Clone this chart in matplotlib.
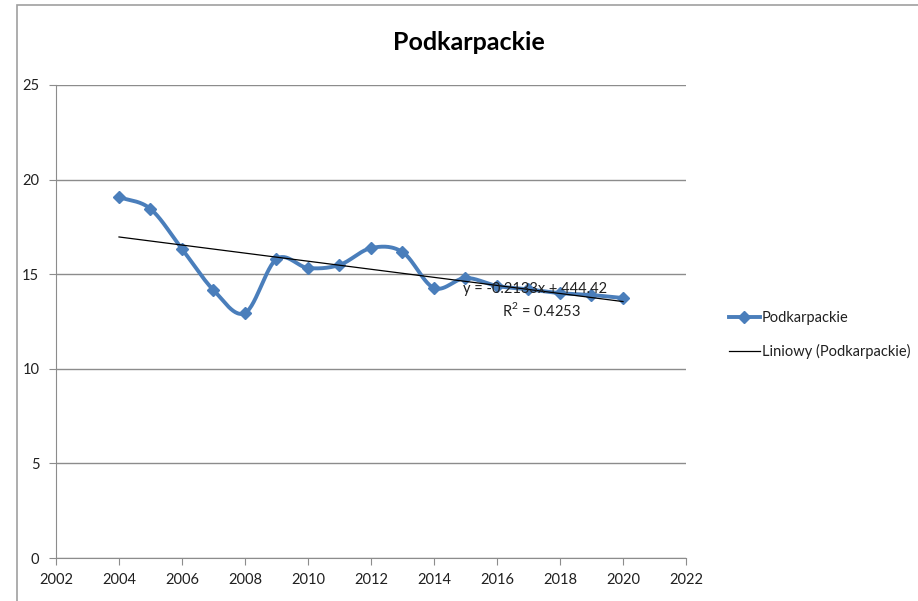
import numpy as np
import matplotlib

matplotlib.use("Agg")
import matplotlib.pyplot as plt
from matplotlib.lines import Line2D
from matplotlib.patches import Rectangle

# values
years = [2004, 2005, 2006, 2007, 2008, 2009, 2010, 2011, 2012,
         2013, 2014, 2015, 2016, 2017, 2018, 2019, 2020]
values = [19.08, 18.45, 16.33, 14.16, 12.95, 15.80, 15.33, 15.49, 16.38,
          16.17, 14.27, 14.80, 14.38, 14.20, 14.00, 13.90, 13.74]
series_name = "Podkarpackie"
trend_name = "Liniowy (Podkarpackie)"
trend_eq = "y = -0.2133x + 444.42"
trend_r2 = "R$^2$ = 0.4253"
x_ticks = list(range(2002, 2023, 2))
y_ticks = [0, 5, 10, 15, 20, 25]

BLUE = "#4a7ebb"
GRID = "#8c8c8c"
FONT = ["Lato", "DejaVu Sans"]
plt.rcParams["font.family"] = FONT
plt.rcParams["mathtext.fontset"] = "custom"
plt.rcParams["mathtext.rm"] = "Lato"


def smooth(x, y, n=30):
    """Catmull-Rom curve through the points, like Excel's smoothed line."""
    x = np.asarray(x, float)
    y = np.asarray(y, float)
    px = np.concatenate([[2 * x[0] - x[1]], x, [2 * x[-1] - x[-2]]])
    py = np.concatenate([[2 * y[0] - y[1]], y, [2 * y[-1] - y[-2]]])
    t = np.linspace(0, 1, n)[:, None]
    out_x, out_y = [], []
    for i in range(1, len(px) - 2):
        for p, out in ((px, out_x), (py, out_y)):
            p0, p1, p2, p3 = p[i - 1], p[i], p[i + 1], p[i + 2]
            seg = 0.5 * ((2 * p1) + (-p0 + p2) * t
                         + (2 * p0 - 5 * p1 + 4 * p2 - p3) * t**2
                         + (-p0 + 3 * p1 - 3 * p2 + p3) * t**3)
            out.extend(seg.ravel())
    return np.array(out_x), np.array(out_y)


fig = plt.figure(figsize=(9.18, 6.01), dpi=100)
fig.patches.append(Rectangle((17 / 918, -0.1), 1.2, 1 - 5 / 601 + 0.1,
                             transform=fig.transFigure, fill=False,
                             edgecolor="#a0a0a0", lw=1.2))
ax = fig.add_axes([56 / 918, 1 - 558 / 601, 630 / 918, 473 / 601])

sx, sy = smooth(years, values)
ax.plot(sx, sy, color=BLUE, lw=2.8, solid_capstyle="round", zorder=3)
ax.plot(years, values, ls="none", marker="D", ms=6.5, color=BLUE, zorder=4)

coef = np.polyfit(years, values, 1)
tx = np.array([years[0], years[-1]])
ax.plot(tx, np.polyval(coef, tx), color="black", lw=0.9, zorder=5)

ax.text(2017.2, 14.2, trend_eq, ha="center", va="center", fontsize=10.5,
        color="#202020", zorder=6)
ax.text(2017.4, 13.1, trend_r2, ha="center", va="center", fontsize=10.5,
        color="#202020", zorder=6)

ax.set_xlim(2002, 2022)
ax.set_ylim(0, 25)
ax.set_xticks(x_ticks)
ax.set_yticks(y_ticks)
ax.yaxis.grid(True, color=GRID, lw=1)
ax.set_axisbelow(True)
for side in ("top", "right"):
    ax.spines[side].set_visible(False)
for side in ("left", "bottom"):
    ax.spines[side].set_color(GRID)
ax.tick_params(axis="both", direction="out", length=5, color=GRID,
               labelsize=10.5, labelcolor="#202020")
ax.tick_params(axis="x", pad=6)
ax.tick_params(axis="y", pad=7)

fig.text(469 / 918, 1 - 43 / 601, series_name, ha="center", va="center",
         fontsize=18, fontweight="bold", color="black")

handles = [
    Line2D([], [], color=BLUE, lw=2.8, marker="D", ms=6),
    Line2D([], [], color="black", lw=0.9),
]
fig.legend(handles, [series_name, trend_name], loc="center left",
           bbox_to_anchor=(716 / 918, 1 - 335 / 601), frameon=False,
           fontsize=10.5, handlelength=2.1, handletextpad=0.15,
           labelspacing=1.3, labelcolor="#202020")

fig.savefig("out.png", dpi=100)
